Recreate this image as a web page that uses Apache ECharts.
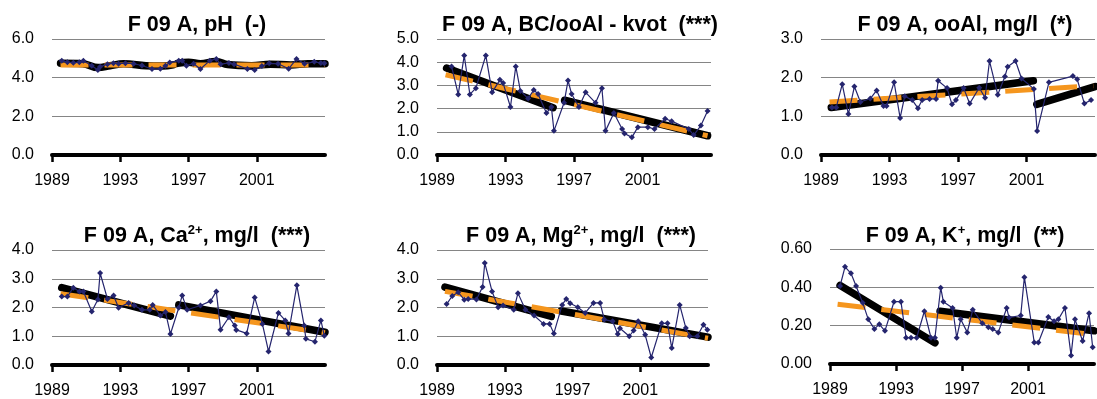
<!DOCTYPE html>
<html><head><meta charset="utf-8">
<script src="https://cdn.jsdelivr.net/npm/echarts@6/dist/echarts.min.js"></script>
<style>html,body{margin:0;padding:0;background:#fff}#c{width:1097px;height:399px}</style>
</head><body><div id="c"></div>
<script>
// ---------- data ----------
const xTickYears = [1989, 1993, 1997, 2001];

// pH
const phYears  = [1989.57,1989.9,1990.25,1990.6,1990.84,1991.33,1991.69,1991.82,1992.25,1992.6,1992.9,1993.3,1993.78,1994.27,1994.86,1995.35,1995.65,1995.9,1996.43,1996.63,1996.88,1997.3,1997.7,1998.25,1998.63,1998.88,1999.37,1999.67,2000.45,2000.88,2001.3,2001.73,2002.25,2002.87,2003.33,2003.8,2004.37,2004.76,2004.96];
const phValues = [4.88,4.8,4.77,4.8,4.88,4.62,4.4,4.56,4.7,4.75,4.72,4.75,4.72,4.63,4.45,4.46,4.62,4.78,4.88,4.88,4.62,4.72,4.45,4.88,4.97,4.7,4.76,4.7,4.45,4.4,4.6,4.74,4.72,4.46,4.97,4.72,4.82,4.76,4.74];
const phTrendA = [[1989.5,4.74],[1990.8,4.72],[1991.7,4.52],[1992.4,4.62],[1993.2,4.72],[1994.5,4.62],[1995.5,4.6],[1996.1,4.66]];
const phTrendB = [[1996.35,4.74],[1997.0,4.8],[1997.7,4.72],[1998.6,4.84],[1999.3,4.68],[2000.7,4.62],[2001.8,4.7],[2003,4.66],[2004,4.72],[2005,4.72]];
const phSen    = [[1989.5,4.65],[2005,4.65]];

// BC/ooAl
const bcYears  = [1989.85,1990.24,1990.59,1990.92,1991.27,1991.85,1992.22,1992.67,1992.86,1993.29,1993.6,1993.87,1994.32,1994.65,1994.9,1995.39,1995.68,1995.83,1996.42,1996.65,1996.86,1997.29,1997.68,1998.26,1998.63,1998.84,1999.33,1999.81,1999.95,2000.38,2000.73,2001.31,2001.7,2002.32,2002.7,2003.7,2003.99,2004.41,2004.8];
const bcValues = [3.82,2.61,4.29,2.61,2.88,4.29,2.7,3.24,3.1,2.07,3.82,2.76,2.44,2.8,2.63,1.81,2.07,1.04,2.25,3.21,2.63,2.07,2.7,2.25,2.88,1.04,1.81,1.12,0.93,0.76,1.2,1.2,1.12,1.56,1.46,1.12,0.86,1.27,1.9];
const bcTrendA = [[1989.56,3.75],[1995.78,2.04]];
const bcTrendB = [[1996.45,2.36],[2004.8,0.83]];
const bcSen    = [[1989.5,3.46],[2004.8,0.83]];

// ooAl
const alYears  = [1989.64,1989.89,1990.24,1990.6,1990.95,1991.3,1991.88,1992.25,1992.65,1992.83,1993.27,1993.62,1993.89,1994.33,1994.66,1994.91,1995.34,1995.72,1995.84,1996.36,1996.65,1996.88,1997.33,1997.68,1998.24,1998.58,1998.84,1999.32,1999.74,1999.9,2000.36,2000.71,2001.43,2001.62,2002.31,2003.71,2003.96,2004.38,2004.77];
const alValues = [1.23,1.23,1.83,1.06,1.77,1.37,1.46,1.67,1.27,1.27,1.88,0.96,1.52,1.42,1.21,1.42,1.45,1.45,1.92,1.73,1.31,1.42,1.73,1.33,1.74,1.48,2.43,1.56,2.03,2.28,2.43,1.98,1.71,0.62,1.88,2.04,1.96,1.33,1.42];
const alTrendA = [[1989.6,1.23],[2001.4,1.92]];
const alTrendB = [[2001.6,1.31],[2005,1.77]];
const alSen    = [[1989.5,1.37],[2004.9,1.79]];

// Ca2+
const caYears  = [1989.57,1989.9,1990.25,1990.61,1990.84,1991.33,1991.69,1991.82,1992.25,1992.61,1992.9,1993.49,1993.82,1994.27,1994.73,1994.9,1995.35,1995.65,1995.94,1996.43,1996.63,1996.92,1997.7,1998.29,1998.63,1998.88,1999.37,1999.71,1999.8,2000.41,2000.88,2001.33,2001.69,2002.27,2002.67,2002.86,2003.35,2003.78,2003.88,2004.41,2004.76,2004.96];
const caValues = [2.38,2.38,2.69,2.56,2.56,1.86,2.28,3.2,2.3,2.42,1.99,2.16,2.07,1.92,1.92,2.09,1.72,1.84,1.08,1.99,2.42,1.92,2.07,2.22,2.56,1.23,1.66,1.37,1.22,1.1,2.35,1.43,0.47,1.81,1.55,1.1,2.77,1.37,0.91,0.81,1.55,1.02];
const caTrendA = [[1989.57,2.69],[1995.94,1.7]];
const caTrendB = [[1996.43,2.09],[2005,1.14]];
const caSen    = [[1989.5,2.48],[2005,1.12]];

// Mg2+
const mgYears  = [1989.57,1989.9,1990.25,1990.61,1990.84,1991.33,1991.69,1991.82,1992.25,1992.61,1992.9,1993.53,1993.78,1994.22,1994.73,1995.29,1995.65,1995.9,1996.39,1996.63,1996.86,1997.31,1997.75,1998.24,1998.63,1998.88,1999.37,1999.67,1999.8,2000.35,2000.61,2000.88,2001.29,2001.65,2002.27,2002.61,2002.86,2003.33,2003.69,2003.92,2004.37,2004.73,2004.96];
const mgValues = [2.12,2.4,2.53,2.27,2.3,2.28,2.71,3.55,2.56,2.01,2.07,1.92,2.5,1.92,1.72,1.43,1.43,1.1,2.09,2.3,2.15,2.01,1.81,2.16,2.16,1.58,1.52,1.08,1.28,1.0,1.2,1.52,1.05,0.26,1.45,1.45,0.59,2.09,1.29,1.0,1.0,1.4,1.23];
const mgTrendA = [[1989.47,2.71],[1995.75,1.69]];
const mgTrendB = [[1996.33,1.88],[2005,0.97]];
const mgSen    = [[1989.47,2.56],[2005,0.93]];

// K+
const kYears  = [1989.61,1989.91,1990.27,1990.58,1990.98,1991.32,1991.69,1991.99,1992.33,1992.88,1993.3,1993.61,1993.91,1994.25,1994.72,1995.12,1995.36,1995.71,1995.87,1996.43,1996.68,1996.92,1997.32,1997.65,1998.23,1998.6,1998.86,1999.2,1999.71,1999.85,2000.56,2000.78,2001.38,2001.63,2002.23,2002.58,2002.84,2003.24,2003.61,2003.85,2004.31,2004.7,2004.92];
const kValues = [0.407,0.507,0.473,0.407,0.32,0.233,0.183,0.207,0.173,0.325,0.325,0.137,0.137,0.137,0.275,0.137,0.137,0.398,0.325,0.292,0.137,0.233,0.165,0.283,0.212,0.192,0.183,0.165,0.292,0.242,0.253,0.453,0.112,0.112,0.245,0.223,0.233,0.292,0.045,0.233,0.12,0.265,0.087];
const kTrendA = [[1989.61,0.41],[1995.36,0.11]];
const kTrendB = [[1995.67,0.275],[2005,0.173]];
const kSen    = [[1989.46,0.312],[2004.6,0.157]];

// ---------- styling / layout ----------
const FONT = 'Liberation Sans, Arial, sans-serif';
const NAVY = '#25256e';
const ORANGE = '#f5961e';
const zip = (a, b) => a.map((x, i) => [x, b[i]]);

const panels = [
  {title: 'F 09 A, pH  (-)', tx: 197, ty: 13, years: phYears, values: phValues, trends: [phTrendA, phTrendB], sen: phSen, smooth: 0.4,
   yMax: 6, yInt: 2, dec: 1, grid: {left: 52, top: 39, width: 273, height: 116}},
  {title: 'F 09 A, BC/ooAl - kvot  (***)', tx: 580, ty: 13, years: bcYears, values: bcValues, trends: [bcTrendA, bcTrendB], sen: bcSen,
   yMax: 5, yInt: 1, dec: 1, grid: {left: 437, top: 39, width: 274, height: 116}},
  {title: 'F 09 A, ooAl, mg/l  (*)', tx: 965, ty: 13, years: alYears, values: alValues, trends: [alTrendA, alTrendB], sen: alSen,
   yMax: 3, yInt: 1, dec: 1, grid: {left: 821, top: 39, width: 274, height: 116}},
  {rich: ['F 09 A, Ca', '2+', ', mg/l  (***)'], tx: 197, ty: 224, years: caYears, values: caValues, trends: [caTrendA, caTrendB], sen: caSen,
   yMax: 4, yInt: 1, dec: 1, grid: {left: 52, top: 250, width: 273, height: 115}},
  {rich: ['F 09 A, Mg', '2+', ', mg/l  (***)'], tx: 581, ty: 224, years: mgYears, values: mgValues, trends: [mgTrendA, mgTrendB], sen: mgSen,
   yMax: 4, yInt: 1, dec: 1, grid: {left: 437, top: 250, width: 271, height: 115}},
  {rich: ['F 09 A, K', '+', ', mg/l  (**)'], tx: 965, ty: 224, years: kYears, values: kValues, trends: [kTrendA, kTrendB], sen: kSen,
   yMax: 0.6, yInt: 0.2, dec: 2, grid: {left: 830, top: 249, width: 264, height: 115}}
];

const titles = [], grids = [], xAxes = [], yAxes = [], series = [];
panels.forEach((p, i) => {
  const richStyles = {
    t: {fontFamily: FONT, fontSize: 21.5, fontWeight: 'bold', color: '#000', lineHeight: 24},
    s: {fontFamily: FONT, fontSize: 13, fontWeight: 'bold', color: '#000', lineHeight: 13, verticalAlign: 'top'}
  };
  titles.push({
    text: p.rich ? `{t|${p.rich[0]}}{s|${p.rich[1]}}{t|${p.rich[2]}}` : `{t|${p.title}}`,
    left: p.tx, top: p.ty, textAlign: 'center', padding: 0,
    textStyle: {fontFamily: FONT, fontSize: 21.5, fontWeight: 'bold', color: '#000', rich: richStyles}
  });
  grids.push(Object.assign({outerBoundsMode: 'none', containLabel: false}, p.grid));
  xAxes.push({
    type: 'value', gridIndex: i, min: 1989, max: 2005, interval: 4,
    axisLine: {show: true, onZero: false, lineStyle: {color: '#000', width: 4}},
    axisTick: {show: true, length: 7, customValues: xTickYears, lineStyle: {color: '#000', width: 2.5}},
    axisLabel: {customValues: xTickYears, margin: 18, fontSize: 16, fontFamily: FONT, color: '#000',
                formatter: v => String(v)},
    splitLine: {show: false}
  });
  yAxes.push({
    type: 'value', gridIndex: i, min: 0, max: p.yMax, interval: p.yInt,
    axisLine: {show: false}, axisTick: {show: false},
    splitLine: {show: true, lineStyle: {color: '#858585', width: 1}},
    axisLabel: {margin: 18, fontSize: 16, fontFamily: FONT, color: '#000', formatter: v => v.toFixed(p.dec)}
  });
  p.trends.forEach(tr => series.push({
    type: 'line', xAxisIndex: i, yAxisIndex: i, data: tr, symbol: 'none', smooth: p.smooth || false,
    lineStyle: {color: '#000', width: 7.5, cap: 'round', join: 'round'}, z: 2, silent: true
  }));
  series.push({
    type: 'line', xAxisIndex: i, yAxisIndex: i, data: p.sen, symbol: 'none',
    lineStyle: {color: ORANGE, width: 5, type: [28, 16], cap: 'butt'}, z: 3, silent: true
  });
  series.push({
    type: 'line', xAxisIndex: i, yAxisIndex: i, data: zip(p.years, p.values),
    symbol: 'diamond', symbolSize: 6, showAllSymbol: true,
    lineStyle: {color: NAVY, width: 1.2}, itemStyle: {color: NAVY}, z: 4, silent: true
  });
});

const chart = echarts.init(document.getElementById('c'), null, {renderer: 'canvas'});
chart.setOption({
  animation: false, backgroundColor: '#fff',
  title: titles, grid: grids, xAxis: xAxes, yAxis: yAxes, series: series
});
</script>
</body></html>
